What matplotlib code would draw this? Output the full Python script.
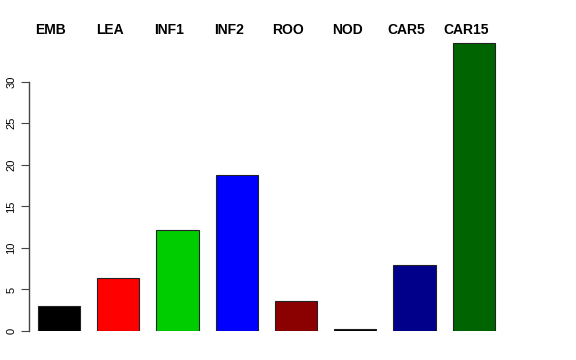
import matplotlib.pyplot as plt
from matplotlib.transforms import blended_transform_factory, ScaledTranslation

categories = ["EMB", "LEA", "INF1", "INF2", "ROO", "NOD", "CAR5", "CAR15"]
values = [3.0, 6.35, 12.15, 18.75, 3.6, 0.2, 7.9, 34.6]
colors = ["#000000", "#FF0000", "#00CD00", "#0000FF", "#8B0000", "#000000", "#00008B", "#006400"]
yticks = [0, 5, 10, 15, 20, 25, 30]

W, H = 576, 360
fig = plt.figure(figsize=(W / 100, H / 100), dpi=100)

# axes placed in pixel terms (left spine at x=29px, y=0 at 331px)
left_px, right_px = 29, 547
bottom_px, top_px = 331, 30
ax = fig.add_axes([left_px / W, 1 - bottom_px / H,
                   (right_px - left_px) / W, (bottom_px - top_px) / H])

step = 59.25
ax.set_xlim(-(59 - left_px) / step, (right_px - 59) / step)
ax.set_ylim(0, (bottom_px - top_px) / 8.31)

ax.bar(range(len(values)), values, width=0.71, color=colors,
       edgecolor="#222222", linewidth=0.8)

for s in ["top", "right", "bottom"]:
    ax.spines[s].set_visible(False)
ax.spines["left"].set_bounds(0, 30)
ax.spines["left"].set_color("#444444")
ax.spines["left"].set_linewidth(1.0)

ax.set_xticks([])
ax.set_yticks(yticks)
ax.set_yticklabels([str(t) for t in yticks], rotation=90, va="center",
                   fontsize=8, family="Liberation Sans")
ax.tick_params(axis="y", length=6, width=0.8, color="#444444", pad=3)

# category names sit a little left of the bar centres
shift = ScaledTranslation(-8 / 100, 0, fig.dpi_scale_trans)
trans = blended_transform_factory(ax.transData, fig.transFigure) + shift
for i, name in enumerate(categories):
    ax.text(i, 1 - 34 / H, name, transform=trans, ha="center", va="baseline",
            fontsize=10, fontweight="bold", family="Liberation Sans")

fig.savefig("out.png", dpi=100)
